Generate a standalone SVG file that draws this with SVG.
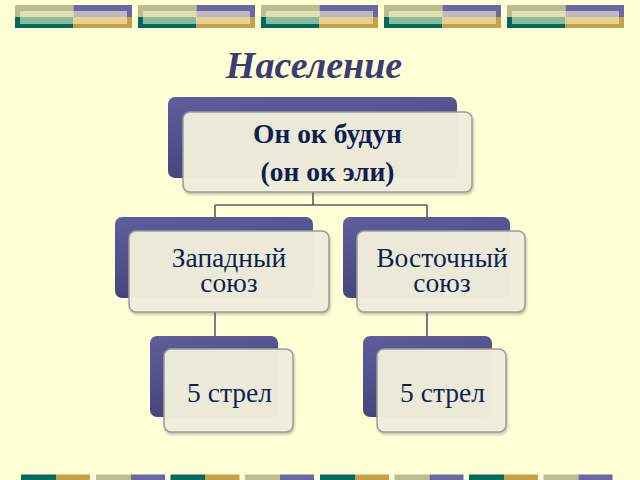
<svg xmlns="http://www.w3.org/2000/svg" width="640" height="480" viewBox="0 0 640 480">
  <defs>
    <linearGradient id="backGrad" x1="0" y1="0" x2="0.3" y2="1">
      <stop offset="0" stop-color="#5e5e9e"/>
      <stop offset="1" stop-color="#44447a"/>
    </linearGradient>
    <filter id="shadow" x="-10%" y="-10%" width="125%" height="130%">
      <feDropShadow dx="1" dy="2" stdDeviation="1.2" flood-color="#555555" flood-opacity="0.35"/>
    </filter>
    <g id="barTop">
      <rect x="0" y="0" width="58.5" height="12" fill="#bcbc8e"/>
      <rect x="58.5" y="0" width="58.5" height="12" fill="#6a68a2"/>
      <rect x="0" y="12" width="58.5" height="11" fill="#006a5e"/>
      <rect x="58.5" y="12" width="58.5" height="11" fill="#c8a04a"/>
      <rect x="5" y="6" width="107" height="13" fill="#fffdd0" opacity="0.55"/>
    </g>
    <g id="barA">
      <rect x="0" y="0" width="35" height="6" fill="#006a5e"/>
      <rect x="35" y="0" width="34" height="6" fill="#c8a04a"/>
    </g>
    <g id="barB">
      <rect x="0" y="0" width="35" height="6" fill="#bcbc8e"/>
      <rect x="35" y="0" width="34" height="6" fill="#6a68a2"/>
    </g>
  </defs>
  <style>
    .back { fill: url(#backGrad); }
    .front { fill: #efeedb; fill-opacity: 0.97; stroke: #9c9c9c; stroke-width: 1.5; filter: url(#shadow); }
    .conn { fill: none; stroke: #5c5c6c; stroke-width: 1.6; }
    .lbl { font-family: "Liberation Serif", "Times New Roman", serif; fill: #0f1f4f; text-anchor: middle; }
    .bold { font-weight: bold; font-size: 27.5px; }
    .reg { font-size: 27.5px; }
  </style>

  <rect x="0" y="0" width="640" height="480" fill="#ffffd6"/>

  <g id="decor-top">
    <use href="#barTop" x="15" y="5"/>
    <use href="#barTop" x="138" y="5"/>
    <use href="#barTop" x="261" y="5"/>
    <use href="#barTop" x="384" y="5"/>
    <use href="#barTop" x="507" y="5"/>
  </g>
  <g id="decor-bottom">
    <use href="#barA" x="21" y="474.5"/>
    <use href="#barB" x="96" y="474.5"/>
    <use href="#barA" x="170.5" y="474.5"/>
    <use href="#barB" x="245" y="474.5"/>
    <use href="#barA" x="320" y="474.5"/>
    <use href="#barB" x="394.5" y="474.5"/>
    <use href="#barA" x="469" y="474.5"/>
    <use href="#barB" x="543.5" y="474.5"/>
  </g>

  <text id="title" x="314" y="78" font-family="Liberation Serif, Times New Roman, serif" font-size="38" font-weight="bold" font-style="italic" fill="#3b3b75" text-anchor="middle">Население</text>

  <g id="connectors">
    <path class="conn" d="M313 192 V205 M215 205 H427 M215 205 V218 M427 205 V218"/>
    <path class="conn" d="M215 312 V337"/>
    <path class="conn" d="M427 312 V337"/>
  </g>

  <g id="node-top">
    <rect class="back" x="168" y="97" width="289" height="81" rx="7"/>
    <rect class="front" x="183" y="112" width="289" height="80" rx="7"/>
    <text class="lbl bold" x="327.5" y="143">Он ок будун</text>
    <text class="lbl bold" x="327.5" y="181">(он ок эли)</text>
  </g>

  <g id="node-west">
    <rect class="back" x="115" y="217" width="198" height="81" rx="7"/>
    <rect class="front" x="129" y="231" width="200" height="81" rx="7"/>
    <text class="lbl reg" x="229" y="267">Западный</text>
    <text class="lbl reg" x="229" y="292">союз</text>
  </g>

  <g id="node-east">
    <rect class="back" x="343" y="217" width="167" height="81" rx="7"/>
    <rect class="front" x="357" y="231" width="168" height="81" rx="7"/>
    <text class="lbl reg" x="442" y="267">Восточный</text>
    <text class="lbl reg" x="442" y="292">союз</text>
  </g>

  <g id="node-west-5">
    <rect class="back" x="150" y="336" width="128" height="81" rx="7"/>
    <rect class="front" x="164" y="349" width="129" height="83" rx="7"/>
    <text class="lbl reg" x="229.5" y="402">5 стрел</text>
  </g>

  <g id="node-east-5">
    <rect class="back" x="363" y="336" width="129" height="81" rx="7"/>
    <rect class="front" x="377" y="349" width="129" height="83" rx="7"/>
    <text class="lbl reg" x="442.5" y="402">5 стрел</text>
  </g>
</svg>
